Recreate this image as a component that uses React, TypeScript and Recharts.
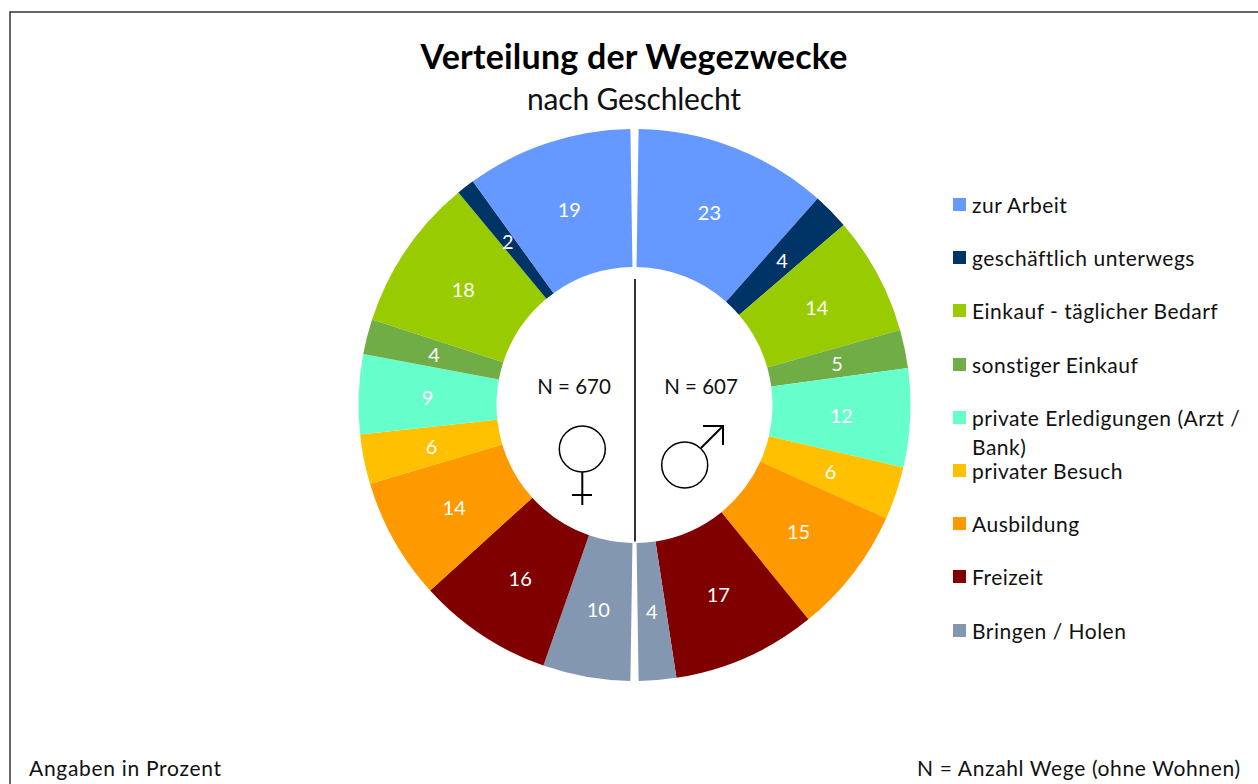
import { PieChart, Pie, Cell, Legend } from 'recharts'

const categories = [
  'zur Arbeit',
  'geschäftlich unterwegs',
  'Einkauf - täglicher Bedarf',
  'sonstiger Einkauf',
  'private Erledigungen (Arzt / Bank)',
  'privater Besuch',
  'Ausbildung',
  'Freizeit',
  'Bringen / Holen',
]
const colors = ['#6699FF', '#003366', '#99CC00', '#70AD47', '#66FFCC', '#FFC000', '#FF9900', '#800000', '#8497B0']

// shares in percent, same order as categories
const maleValues = [22.7, 4.3, 13.9, 4.5, 11.6, 6.2, 14.9, 16.9, 4.4]
const femaleValues = [19.4, 2.1, 17.9, 4.1, 9.3, 5.8, 14.2, 15.8, 10.2]

const maleData = categories.map((name, i) => ({ name, value: maleValues[i], color: colors[i] }))
// women run clockwise from the bottom, so the order is flipped
const femaleData = categories.map((name, i) => ({ name, value: femaleValues[i], color: colors[i] })).reverse()

const FONT = 'Lato, sans-serif'
const CX = 634.5
const CY = 405
const RAD = Math.PI / 180

function sliceLabel({ cx, cy, midAngle, innerRadius, outerRadius, value }: any) {
  const r = (innerRadius + outerRadius) / 2
  return (
    <text
      x={cx + r * Math.cos(-midAngle * RAD)}
      y={cy + r * Math.sin(-midAngle * RAD)}
      fill="#fff"
      fontSize={20}
      fontFamily={FONT}
      textAnchor="middle"
      dominantBaseline="central"
    >
      {Math.round(value)}
    </text>
  )
}

function LegendList() {
  return (
    <div style={{ fontFamily: FONT, fontSize: 21, letterSpacing: 0.5, color: '#111', width: 295 }}>
      {categories.map((name, i) => (
        <div key={name} style={{ position: 'relative', height: 53.2, lineHeight: '29px', paddingLeft: 19 }}>
          <span style={{ position: 'absolute', left: 0, top: 8, width: 13, height: 13, background: colors[i] }} />
          {name}
        </div>
      ))}
    </div>
  )
}

export default function App() {
  return (
    <div style={{ position: 'absolute', left: 0, top: 0, width: 1258, height: 784, overflow: 'hidden', background: '#fff' }}>
      <PieChart width={1258} height={784} margin={{ top: 0, right: 0, bottom: 0, left: 0 }}>
        <rect x={10} y={12} width={1400} height={1000} fill="none" stroke="#333" strokeWidth={1.5} />
        <Pie
          data={maleData}
          dataKey="value"
          nameKey="name"
          cx={CX}
          cy={CY}
          innerRadius={138}
          outerRadius={276}
          startAngle={89.15}
          endAngle={-89.15}
          stroke="none"
          label={sliceLabel}
          labelLine={false}
          isAnimationActive={false}
        >
          {maleData.map((d) => (
            <Cell key={d.name} fill={d.color} />
          ))}
        </Pie>
        <Pie
          data={femaleData}
          dataKey="value"
          nameKey="name"
          cx={CX}
          cy={CY}
          innerRadius={138}
          outerRadius={276}
          startAngle={-90.85}
          endAngle={-269.15}
          stroke="none"
          label={sliceLabel}
          labelLine={false}
          isAnimationActive={false}
        >
          {femaleData.map((d) => (
            <Cell key={d.name} fill={d.color} />
          ))}
        </Pie>
        <Legend
          layout="vertical"
          content={<LegendList />}
          wrapperStyle={{ left: 953, top: 190, width: 295, height: 480 }}
        />

        <text x={634} y={69} textAnchor="middle" fontFamily={FONT} fontSize={34} fontWeight={700} fill="#000" textLength={427}>
          Verteilung der Wegezwecke
        </text>
        <text x={634} y={110} textAnchor="middle" fontFamily={FONT} fontSize={30} fill="#111" textLength={214}>
          nach Geschlecht
        </text>
        <text x={29} y={776} fontFamily={FONT} fontSize={21} fill="#111" textLength={192}>
          Angaben in Prozent
        </text>
        <text x={917} y={776} fontFamily={FONT} fontSize={21} fill="#111" textLength={323}>
          N = Anzahl Wege (ohne Wohnen)
        </text>

        <line x1={635} y1={279} x2={635} y2={541.5} stroke="#333" strokeWidth={2} />
        <text x={574} y={394} textAnchor="middle" fontFamily={FONT} fontSize={20.5} fill="#111">N = 670</text>
        <text x={701} y={394} textAnchor="middle" fontFamily={FONT} fontSize={20.5} fill="#111">N = 607</text>

        {/* venus */}
        <g fill="none" stroke="#000">
          <circle cx={582.3} cy={449} r={23} strokeWidth={1.5} />
          <line x1={582.3} y1={472} x2={582.3} y2={505} strokeWidth={2} />
          <line x1={572} y1={495} x2={592} y2={495} strokeWidth={2} />
        </g>
        {/* mars */}
        <g fill="none" stroke="#000">
          <circle cx={684.7} cy={465} r={23} strokeWidth={1.5} />
          <line x1={701} y1={448} x2={723} y2={426} strokeWidth={2} />
          <polyline points="703,426 723,426 723,445" strokeWidth={2} />
        </g>
      </PieChart>
    </div>
  )
}
